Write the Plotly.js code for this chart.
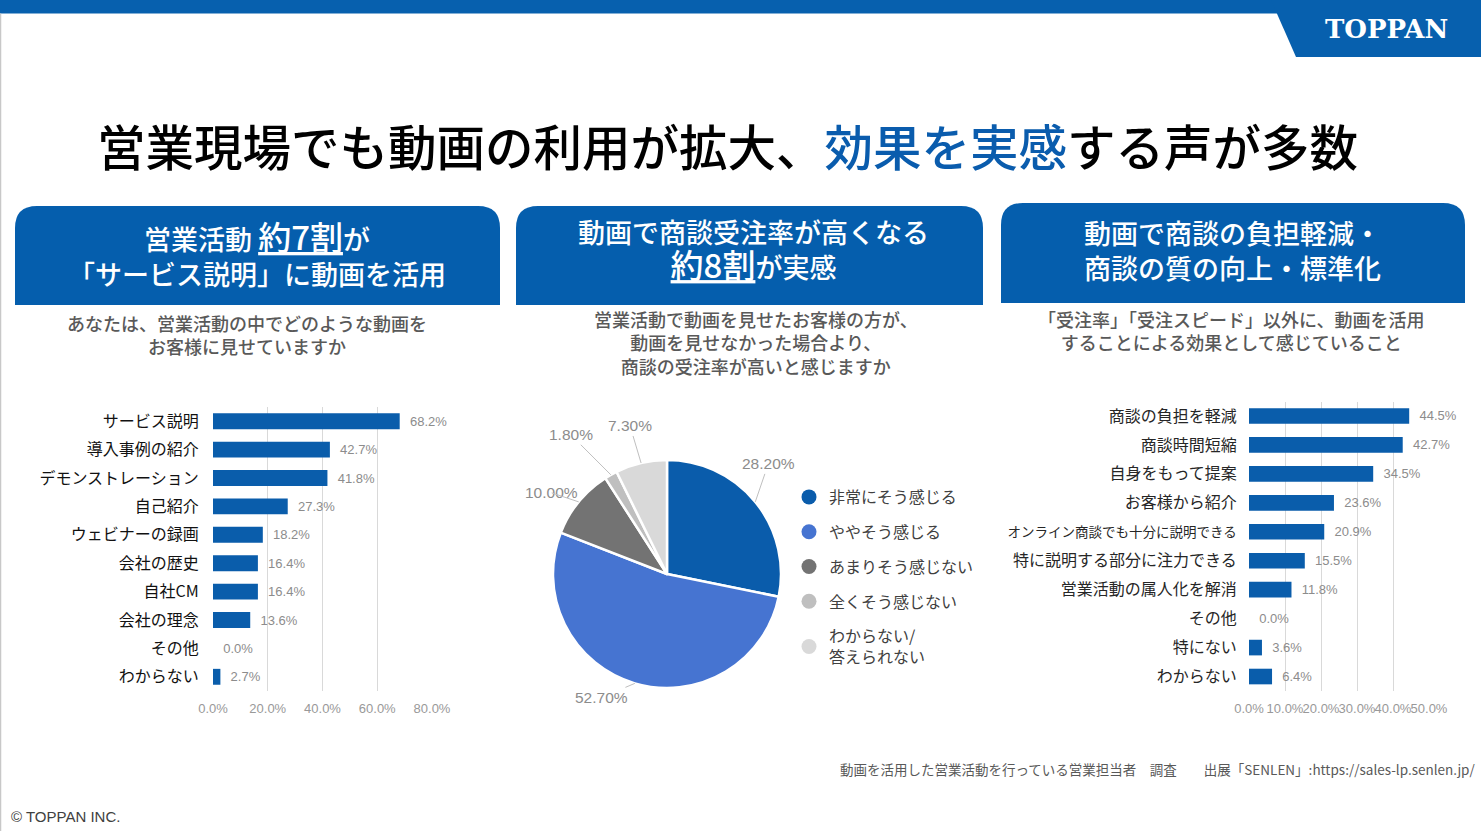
<!DOCTYPE html>
<html><head><meta charset="utf-8">
<script src="https://cdn.plot.ly/plotly-3.0.1.min.js"></script>
<style>html,body{margin:0;padding:0;background:#fff;overflow:hidden}#chart{width:1481px;height:831px}</style>
</head><body><div id="chart"></div>
<script>
// ---------- data ----------
const leftCategories = ['サービス説明','導入事例の紹介','デモンストレーション','自己紹介','ウェビナーの録画','会社の歴史','自社CM','会社の理念','その他','わからない'];
const leftValues = [68.2,42.7,41.8,27.3,18.2,16.4,16.4,13.6,0.0,2.7];
const leftTicks = [0,20,40,60,80];

const pieLabels = ['非常にそう感じる','ややそう感じる','あまりそう感じない','全くそう感じない','わからない/答えられない'];
const pieValues = [28.2,52.7,10.0,1.8,7.3];

const rightCategories = ['商談の負担を軽減','商談時間短縮','自身をもって提案','お客様から紹介','オンライン商談でも十分に説明できる','特に説明する部分に注力できる','営業活動の属人化を解消','その他','特にない','わからない'];
const rightValues = [44.5,42.7,34.5,23.6,20.9,15.5,11.8,0.0,3.6,6.4];
const rightTicks = [0,10,20,30,40,50];

// ---------- style ----------
const W = 1481, H = 831;
const px = x => x / W, py = y => 1 - y / H;
const BLUE = '#0760ae';
const BAR = '#0a5dab';
const pieColors = ['#0a5cab','#4674d1','#737373','#bfbfbf','#d9d9d9'];
const JP = '"Noto Sans CJK JP", "Noto Sans", sans-serif';
const NUM = '"Liberation Sans", Arial, "Noto Sans CJK JP", sans-serif';

const traces = [];
traces.push({
  type:'bar', orientation:'h', x:leftValues, y:leftCategories, xaxis:'x', yaxis:'y',
  marker:{color:BAR, line:{width:0}}, width:0.56,
  texttemplate:'\u00a0\u00a0%{x:.1f}%', textposition:'outside', cliponaxis:false, constraintext:'none',
  textfont:{family:NUM, size:13, color:'#8c8c8c'}, hoverinfo:'skip', showlegend:false
});
traces.push({
  type:'bar', orientation:'h', x:rightValues, y:rightCategories, xaxis:'x2', yaxis:'y2',
  marker:{color:BAR, line:{width:0}}, width:0.54,
  texttemplate:'\u00a0\u00a0%{x:.1f}%', textposition:'outside', cliponaxis:false, constraintext:'none',
  textfont:{family:NUM, size:13, color:'#8c8c8c'}, hoverinfo:'skip', showlegend:false
});
traces.push({
  type:'pie', values:pieValues, labels:pieLabels, sort:false, direction:'clockwise', rotation:0,
  marker:{colors:pieColors, line:{color:'#ffffff', width:2.5}}, textinfo:'none', hoverinfo:'skip',
  domain:{x:[px(553),px(781)], y:[py(688),py(460)]}, showlegend:false
});
pieLabels.forEach((lab,i)=>{
  traces.push({type:'scatter', mode:'markers', x:[null], y:[null], xaxis:'x3', yaxis:'y3',
    marker:{symbol:'circle', size:15, color:pieColors[i]}, name:lab.replace('/', '/<br>'),
    legendgroup:'g'+i, showlegend:true, hoverinfo:'skip'});
});

// ---------- pie labels with leader lines ----------
const pieCx = 667, pieCy = 574, pieR = 114;
const pieOffsets = [[13,-38],[-33,14],[-27,-9],[-40,-40],[-11,-37]];
const total = pieValues.reduce((a,b)=>a+b,0);
const annotations = [];
let cum = 0;
pieValues.forEach((v,i)=>{
  const a = (cum + v/2) / total * 2 * Math.PI; cum += v;
  const ex = pieCx + pieR*Math.sin(a), ey = pieCy - pieR*Math.cos(a);
  annotations.push({xref:'paper', yref:'paper', x:px(ex), y:py(ey), text:v.toFixed(2)+'%',
    showarrow:true, arrowhead:0, arrowwidth:1, arrowcolor:'#bfbfbf', ax:pieOffsets[i][0], ay:pieOffsets[i][1],
    standoff:0, font:{family:NUM, size:15.5, color:'#8c8c8c'}});
});

function txt(x,y,text,font,opts={}){
  annotations.push(Object.assign({xref:'paper', yref:'paper', x:px(x), y:py(y), text:text, showarrow:false,
    xanchor:'center', yanchor:'middle', font:font}, opts));
}
// title
txt(727,145,'営業現場でも動画の利用が拡大、<span style="color:#0a5cad">効果を実感</span>する声が多数',{family:JP,size:48.5,color:'#000',weight:500});
// headers
const hf = {family:JP, size:27, color:'#fff', weight:500};
txt(257,253,'営業活動 <u><span style="font-size:33px">約7割</span></u>が<br>「サービス説明」に動画を活用',hf);
txt(753,250,'動画で商談受注率が高くなる<br><u><span style="font-size:33px">約8割</span></u>が実感',hf);
txt(1232,250,'動画で商談の負担軽減・<br>商談の質の向上・標準化',hf);
// subtitles
const sf = {family:JP, size:18, color:'#595959', weight:500};
txt(247,334,'あなたは、営業活動の中でどのような動画を<br>お客様に見せていますか',sf);
txt(756,343,'営業活動で動画を見せたお客様の方が、<br>動画を見せなかった場合より、<br>商談の受注率が高いと感じますか',sf);
txt(1231,331,'「受注率」「受注スピード」以外に、動画を活用<br>することによる効果として感じていること',sf);
// footer
txt(1477,769,'動画を活用した営業活動を行っている営業担当者　調査　　出展「SENLEN」:https://sales-lp.senlen.jp/',{family:JP,size:13.5,color:'#595959'},{xanchor:'right'});
txt(9,816,'© TOPPAN INC.',{family:NUM,size:15,color:'#404040'},{xanchor:'left'});
// logo
txt(1386,29,'TOPPAN',{family:'"DejaVu Serif", serif', size:26, color:'#fff', weight:700});

// ---------- shapes ----------
function roundTop(x0,y0,x1,y1,r){
  const rx=r/W, ry=r/H, X0=px(x0), X1=px(x1), Y0=py(y0), Y1=py(y1);
  return `M ${X0} ${Y1} L ${X0} ${Y0-ry} Q ${X0} ${Y0} ${X0+rx} ${Y0} L ${X1-rx} ${Y0} Q ${X1} ${Y0} ${X1} ${Y0-ry} L ${X1} ${Y1} Z`;
}
const shapes = [
  {type:'rect', xref:'paper', yref:'paper', x0:0, x1:1, y0:py(13.5), y1:1, fillcolor:BLUE, line:{width:0}, layer:'below'},
  {type:'path', xref:'paper', yref:'paper', path:`M ${px(1271)} ${py(0)} L ${px(1481)} ${py(0)} L ${px(1481)} ${py(57)} L ${px(1296)} ${py(57)} Z`, fillcolor:BLUE, line:{width:0}, layer:'below'},
  {type:'line', xref:'paper', yref:'paper', x0:px(0.5), x1:px(0.5), y0:0, y1:py(13.5), line:{color:'#c8c8c8', width:1.5}},
  {type:'path', xref:'paper', yref:'paper', path:roundTop(15,206,500,305,22), fillcolor:'#055ead', line:{width:0}, layer:'below'},
  {type:'path', xref:'paper', yref:'paper', path:roundTop(516,206,983,305,22), fillcolor:'#055ead', line:{width:0}, layer:'below'},
  {type:'path', xref:'paper', yref:'paper', path:roundTop(1001,203,1465,303,22), fillcolor:'#055ead', line:{width:0}, layer:'below'}
];

const rightTickText = rightCategories.map(c => c.length > 14 ? `<span style="font-size:13.5px">${c}</span>` : c);

const layout = {
  width:W, height:H, margin:{l:0,r:0,t:0,b:0}, paper_bgcolor:'#fff', plot_bgcolor:'rgba(0,0,0,0)',
  font:{family:JP},
  xaxis:{domain:[px(213),px(432)], range:[0,80], tickvals:leftTicks, ticktext:leftTicks.map(t=>t.toFixed(1)+'%'),
    showgrid:true, gridcolor:'#d9d9d9', gridwidth:1, zeroline:false, showline:false, tickangle:0,
    ticks:'outside', ticklen:5, tickcolor:'rgba(0,0,0,0)', tickfont:{family:NUM, size:13, color:'#999'}, anchor:'y', fixedrange:true},
  yaxis:{domain:[py(691),py(407)], type:'category', categoryorder:'array', categoryarray:leftCategories, range:[9.5,-0.5],
    showgrid:false, zeroline:false, showline:false, ticks:'outside', ticklen:10, tickcolor:'rgba(0,0,0,0)',
    tickfont:{family:JP, size:16, color:'#111'}, anchor:'x', fixedrange:true},
  xaxis2:{domain:[px(1249),px(1429)], range:[0,50], tickvals:rightTicks, ticktext:rightTicks.map(t=>t.toFixed(1)+'%'),
    showgrid:true, gridcolor:'#d9d9d9', gridwidth:1, zeroline:false, showline:false, tickangle:0,
    ticks:'outside', ticklen:5, tickcolor:'rgba(0,0,0,0)', tickfont:{family:NUM, size:13, color:'#999'}, anchor:'y2', fixedrange:true},
  yaxis2:{domain:[py(691),py(401.5)], type:'category', categoryorder:'array', categoryarray:rightCategories, range:[9.5,-0.5],
    tickvals:rightCategories, ticktext:rightTickText,
    showgrid:false, zeroline:false, showline:false, ticks:'outside', ticklen:8, tickcolor:'rgba(0,0,0,0)',
    tickfont:{family:JP, size:16, color:'#262626'}, anchor:'x2', fixedrange:true},
  xaxis3:{domain:[0,0.01], visible:false, range:[0,1], anchor:'y3'},
  yaxis3:{domain:[0,0.01], visible:false, range:[0,1], anchor:'x3'},
  showlegend:true,
  legend:{x:px(789), y:py(480), xanchor:'left', yanchor:'top', bgcolor:'rgba(0,0,0,0)', borderwidth:0,
    font:{family:JP, size:16, color:'#404040'}, traceorder:'grouped', tracegroupgap:11, itemclick:false, itemdoubleclick:false},
  bargap:0.44,
  shapes:shapes, annotations:annotations
};
Plotly.newPlot('chart', traces, layout, {staticPlot:true, displayModeBar:false});
</script></body></html>
